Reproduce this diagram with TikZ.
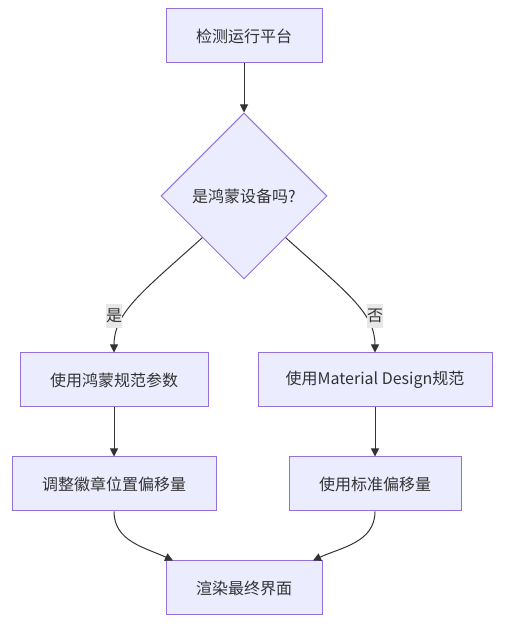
\documentclass[tikz,border=0pt]{standalone}
\usepackage{fontspec}
\setmainfont{Noto Sans CJK SC}
\usetikzlibrary{shapes.geometric,arrows.meta}
\definecolor{boxfill}{HTML}{ECECFF}
\definecolor{boxline}{HTML}{9370DB}
\definecolor{ink}{HTML}{333333}
\definecolor{lblfill}{HTML}{E8E8E8}

\begin{document}
\begin{tikzpicture}[x=1pt, y=1pt,
    main/.style = {rectangle, draw=boxline, fill=boxfill, line width=1pt, minimum height=54pt, inner sep=0pt, text=ink, font=\fontsize{16}{18}\selectfont},
    ask/.style = {diamond, draw=boxline, fill=boxfill, line width=1pt, minimum size=166pt, inner sep=0pt, text=ink, font=\fontsize{16}{18}\selectfont},
    lbl/.style = {rectangle, fill=lblfill, text=ink, inner xsep=0pt, inner ysep=0pt, minimum height=24pt, font=\fontsize{16}{18}\selectfont},
    edge/.style = {draw=ink, line width=1pt, -{Triangle[length=8pt, width=8pt]}}]
                \useasboundingbox (0,0) rectangle (504,628);

                \node[main, minimum width=156pt] (1) at (244, 592) {检测运行平台};
                \node[ask] (2) at (244, 432) {是鸿蒙设备吗?};
                \node[main, minimum width=188pt] (3) at (114, 248) {使用鸿蒙规范参数};
                \node[main, minimum width=234pt] (4) at (375, 248) {使用Material Design规范};
                \node[main, minimum width=204pt] (5) at (114, 144) {调整徽章位置偏移量};
                \node[main, minimum width=172pt] (6) at (375, 144) {使用标准偏移量};
                \node[main, minimum width=156pt] (7) at (244, 40) {渲染最终界面};

                \draw[edge] (1) -- (2);
                \draw[edge] (2.south west) to[out=-138, in=90, out distance=80pt, in distance=40pt] (3);
                \draw[edge] (2.south east) to[out=-42, in=90, out distance=80pt, in distance=40pt] (4);
                \draw[edge] (3) -- (5);
                \draw[edge] (4) -- (6);
                \draw[edge] (5.south) to[out=-90, in=155] ([xshift=-71pt]7.north);
                \draw[edge] (6.south) to[out=-90, in=25] ([xshift=69pt]7.north);

                % edge labels on top of the curves
                \node[lbl] (8) at (114, 312) {是};
                \node[lbl] (9) at (375, 312) {否};
            \end{tikzpicture}
\end{document}
